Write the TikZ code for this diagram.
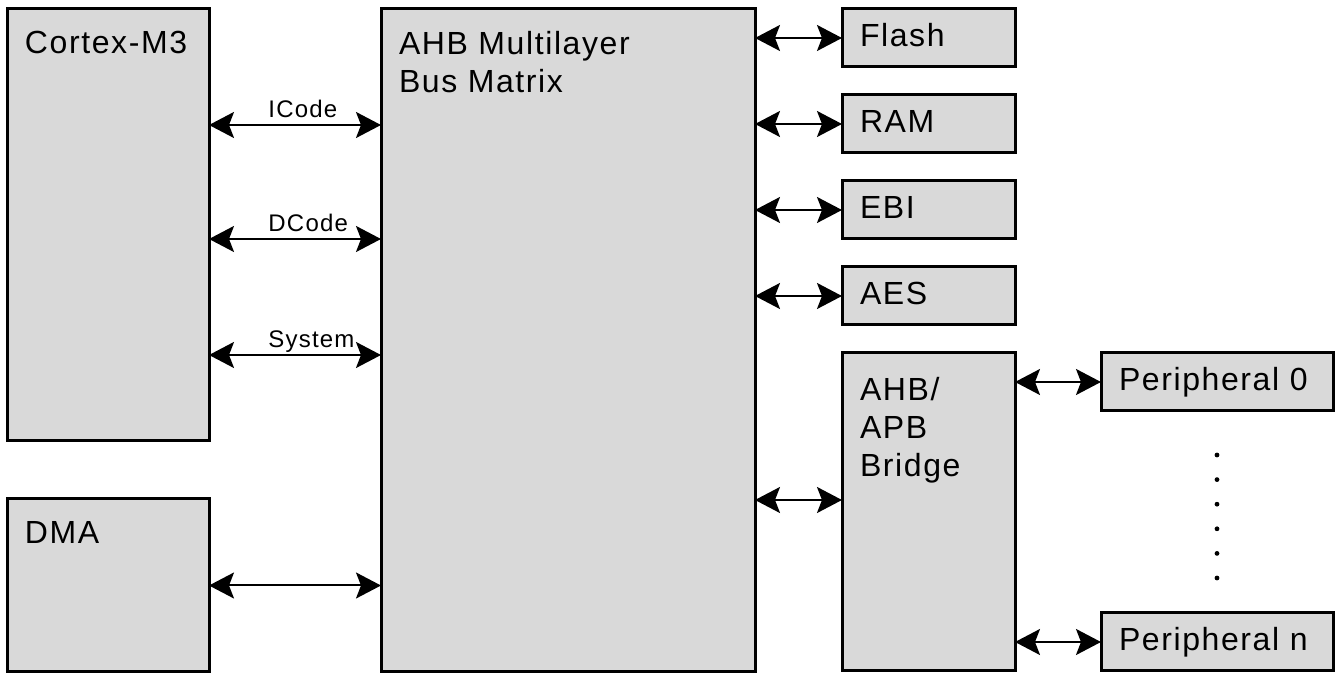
\documentclass[tikz,border=0pt]{standalone}
\usepackage{fontspec}
\setmainfont[LetterSpace=5]{Liberation Sans}
\usetikzlibrary{arrows.meta,positioning}
\definecolor{blockgray}{RGB}{217,217,217}

\begin{document}
\begin{tikzpicture}[>={Stealth[length=12.5pt,width=13pt,inset=2.5pt]},line width=1pt,
  block/.style={draw,line width=1.5pt,fill=blockgray,inner sep=0pt,outer sep=0pt,anchor=north west},
  small block/.style={draw,line width=1.5pt,fill=blockgray,anchor=north west,align=left,
    inner xsep=9pt,inner ysep=0pt,outer sep=0pt,minimum height=29pt,text height=11pt,text depth=2pt,
    font=\fontsize{16}{19}\selectfont},
  title/.style={anchor=base west,inner sep=0pt,align=left,font=\fontsize{16}{19}\selectfont},
  bus name/.style={anchor=base west,inner sep=0pt,font=\fontsize{12}{14}\selectfont}]

 \useasboundingbox (0,0) rectangle (670pt,-336.5pt);

 % masters
 \node[block,minimum width=101pt,minimum height=216pt] (cpu) at (3.5pt,-4.5pt) {};
 \node[block,minimum width=101pt,minimum height=86.5pt,below=29pt of cpu] (dma) {};
 \node[block,minimum width=187pt,minimum height=331.5pt] (matrix) at ([xshift=86pt]cpu.north east) {};

 % slaves
 \node[small block,text width=68.5pt] (flash) at ([xshift=43.5pt]matrix.north east) {Flash};
 \node[small block,text width=68.5pt,below=14pt of flash] (ram) {RAM};
 \node[small block,text width=68.5pt,below=14pt of ram] (ebi) {EBI};
 \node[small block,text width=68.5pt,below=14pt of ebi] (aes) {AES};
 \node[block,minimum width=86.5pt,minimum height=159pt,below=14pt of aes] (bridge) {};
 \node[small block,text width=98pt] (p0) at ([xshift=43pt]bridge.north east) {Peripheral 0};
 \node[small block,text width=98pt,anchor=south west] (pn) at ([xshift=43pt]bridge.south east) {Peripheral n};

 % base of a title = baseline of its last line
 \node[title] (cpu text) at ([xshift=8.5pt,yshift=-22.5pt]cpu.north west) {Cortex-M3};
 \node[title] (dma text) at ([xshift=8.5pt,yshift=-22.5pt]dma.north west) {DMA};
 \node[title] (matrix text) at ([xshift=8.5pt,yshift=-42pt]matrix.north west) {AHB Multilayer\\Bus Matrix};
 \node[title] (bridge text) at ([xshift=8.5pt,yshift=-62pt]bridge.north west) {AHB/\\APB\\Bridge};

 \foreach \i in {0,...,5}
   \fill ([yshift={-22pt-12.3pt*\i}]p0.south) circle (1.2pt);

 \coordinate (bridge port) at ([yshift=-73.5pt]bridge.north west);

 \path[<->]
    ([yshift=-58pt]cpu.north east)  edge node[bus name,pos=.34,yshift=3.5pt] {ICode} ([yshift=-58pt]matrix.north west)
    ([yshift=-115pt]cpu.north east) edge node[bus name,pos=.34,yshift=3.5pt] {DCode} ([yshift=-115pt]matrix.north west)
    ([yshift=-173pt]cpu.north east) edge node[bus name,pos=.34,yshift=3.5pt] {System} ([yshift=-173pt]matrix.north west)
    (dma.east)           edge (dma.east -| matrix.west)
    (matrix.east |- flash) edge (flash)
    (matrix.east |- ram)   edge (ram)
    (matrix.east |- ebi)   edge (ebi)
    (matrix.east |- aes)   edge (aes)
    (bridge port -| matrix.east) edge (bridge port)
    (bridge.east |- p0)    edge (p0)
    (bridge.east |- pn)    edge (pn);

\end{tikzpicture}
\end{document}
